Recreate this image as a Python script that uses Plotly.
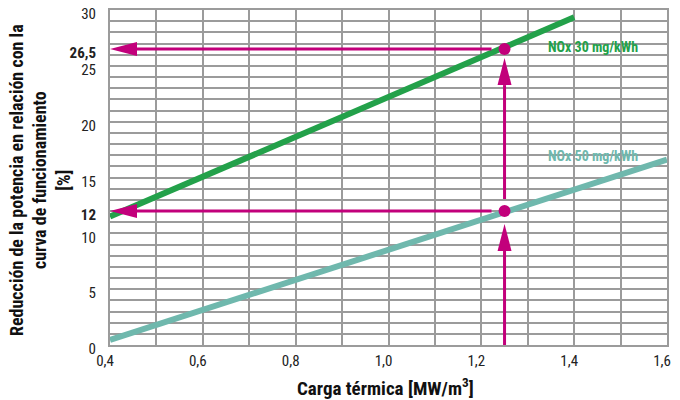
import plotly.graph_objects as go

# ---- data ----
load_30 = [0.4, 1.4]
reduction_30 = [11.5, 29.35]
load_50 = [0.4, 1.6]
reduction_50 = [0.45, 16.6]
op_load = 1.25
op_red_30 = 26.5
op_red_50 = 12.0
series_names = ["NOx 30 mg/kWh", "NOx 50 mg/kWh"]
x_ticks = [0.4, 0.6, 0.8, 1.0, 1.2, 1.4, 1.6]
y_tick_vals = [0, 5, 10, 12, 15, 20, 25, 26.5, 30]
y_tick_text = ["0", "5", "10", "<b>12</b>", "15", "20", "25", "<b>26,5</b>", "30"]

X_RANGE = [0.4, 1.6]
Y_RANGE = [0, 30]

GREEN = "#23a14a"
TEAL = "#6fb8ad"
MAG = "#c2007b"
GRID = "#9b9b9b"
FONT = "Liberation Sans Narrow, Roboto Condensed, Arial Narrow, Liberation Sans, sans-serif"

# pixel geometry of plot area (for arrowhead sizes)
L, R, T, B = 110, 13, 10, 55
W, H = 680, 400
px_x = (W - L - R) / (X_RANGE[1] - X_RANGE[0])
px_y = (H - T - B) / (Y_RANGE[1] - Y_RANGE[0])
HEAD_LEN = 27
HEAD_HALF = 7

fig = go.Figure()

fig.add_trace(go.Scatter(x=load_50, y=reduction_50, mode="lines",
                         line=dict(color=TEAL, width=6), hoverinfo="skip", showlegend=False))
fig.add_trace(go.Scatter(x=load_30, y=reduction_30, mode="lines",
                         line=dict(color=GREEN, width=6), hoverinfo="skip", showlegend=False))

def hline_arrow(y, x_end):
    hx = HEAD_LEN / px_x
    hy = HEAD_HALF / px_y
    x0 = X_RANGE[0]
    fig.add_trace(go.Scatter(x=[x_end, x0 + hx], y=[y, y], mode="lines",
                             line=dict(color=MAG, width=3), hoverinfo="skip", showlegend=False))
    fig.add_trace(go.Scatter(x=[x0, x0 + hx, x0 + hx, x0], y=[y, y + hy, y - hy, y],
                             mode="lines", fill="toself", fillcolor=MAG,
                             line=dict(color=MAG, width=0), hoverinfo="skip", showlegend=False))

def vline_arrow(x, y_start, y_tip):
    hy = HEAD_LEN / px_y
    hx = HEAD_HALF / px_x
    fig.add_trace(go.Scatter(x=[x, x], y=[y_start, y_tip - hy], mode="lines",
                             line=dict(color=MAG, width=3), hoverinfo="skip", showlegend=False))
    fig.add_trace(go.Scatter(x=[x, x - hx, x + hx, x], y=[y_tip, y_tip - hy, y_tip - hy, y_tip],
                             mode="lines", fill="toself", fillcolor=MAG,
                             line=dict(color=MAG, width=0), hoverinfo="skip", showlegend=False))

gap_x = 13 / px_x
hline_arrow(op_red_30, op_load - gap_x)
hline_arrow(op_red_50, op_load - gap_x)
vline_arrow(op_load, Y_RANGE[0], op_red_50 - 13 / px_y)
vline_arrow(op_load, op_red_50 + 12 / px_y, op_red_30 - 9 / px_y)

fig.add_trace(go.Scatter(x=[op_load, op_load], y=[op_red_30, op_red_50], mode="markers",
                         marker=dict(color=MAG, size=12), hoverinfo="skip", showlegend=False))

# dummy trace for the label axis
fig.add_trace(go.Scatter(x=[None], y=[None], yaxis="y2", showlegend=False, hoverinfo="skip"))

fig.update_layout(
    width=W, height=H,
    margin=dict(l=L, r=R, t=T, b=B),
    paper_bgcolor="white", plot_bgcolor="white",
    separators=",.",
    font=dict(family=FONT, size=15, color="#222222"),
    xaxis=dict(range=X_RANGE, tickvals=x_ticks, tickformat=".1f",
               showgrid=True, gridcolor=GRID, gridwidth=1.5,
               minor=dict(dtick=0.1, tick0=0.4, showgrid=True, gridcolor=GRID, gridwidth=1.5),
               showline=True, linecolor=GRID, linewidth=2, mirror=True,
               zeroline=False, ticks="", ticklabelstandoff=1, ticklabelshift=-5,
               ticklabeloverflow="allow", automargin=False),
    yaxis=dict(range=Y_RANGE, dtick=1, tick0=0, showgrid=True, gridcolor=GRID, gridwidth=1.5,
               showticklabels=False, showline=True, linecolor=GRID, linewidth=2, mirror=True,
               zeroline=False, ticks="", automargin=False),
    yaxis2=dict(range=Y_RANGE, overlaying="y", side="left", tickvals=y_tick_vals,
                ticktext=y_tick_text, showgrid=False, zeroline=False, showline=False,
                ticks="", ticklabelstandoff=13, ticklabelshift=4,
                ticklabeloverflow="allow", automargin=False),
    annotations=[
        dict(text="<b>" + series_names[0] + "</b>", x=1.339, y=26.7, xref="x", yref="y",
             xanchor="left", yanchor="middle", showarrow=False,
             font=dict(color=GREEN, size=14, family=FONT)),
        dict(text="<b>" + series_names[1] + "</b>", x=1.339, y=16.9, xref="x", yref="y",
             xanchor="left", yanchor="middle", showarrow=False,
             font=dict(color=TEAL, size=14, family=FONT)),
        dict(text="<b>Reducción de la potencia en relación con la<br>curva de funcionamiento<br>[%]</b>",
             x=-0.1257, y=0.4925, xref="paper", yref="paper", textangle=-90,
             xanchor="center", yanchor="middle", showarrow=False,
             font=dict(size=18, color="#111111", family=FONT)),
        dict(text="<b>Carga térmica [MW/m<sup>3</sup>]</b>", x=0.494, y=-0.128,
             xref="paper", yref="paper", xanchor="center", yanchor="middle",
             showarrow=False, font=dict(size=19, color="#111111", family=FONT)),
    ],
)

fig.write_html("out.html", config={"displayModeBar": False},
               post_script="document.body.style.margin='0';document.body.style.overflow='hidden';")
